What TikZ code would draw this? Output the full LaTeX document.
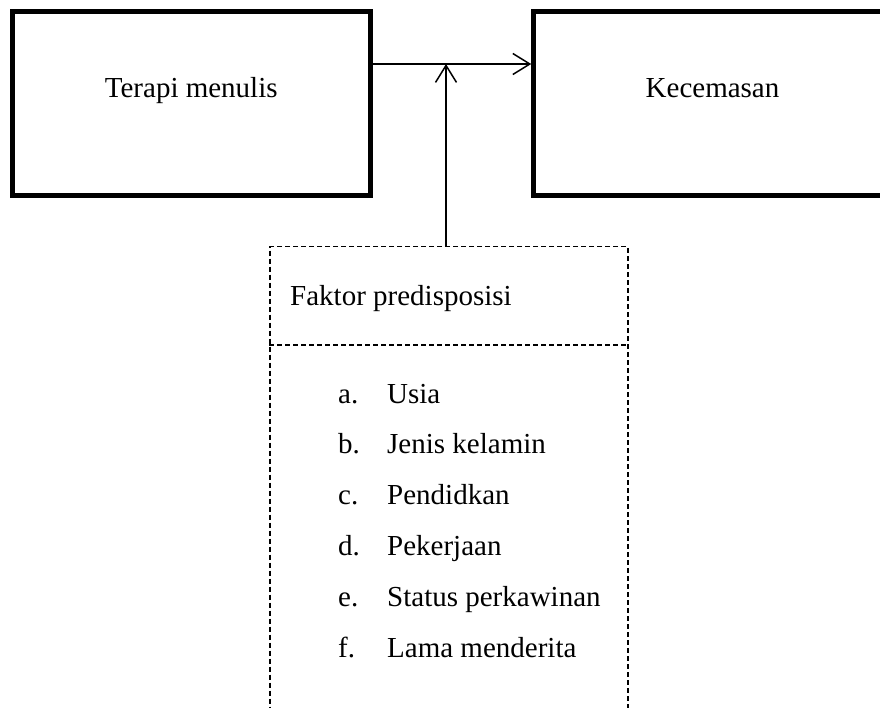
\documentclass[tikz,border=0pt]{standalone}
\usepackage{fontspec}
\setmainfont{Liberation Serif}
\usetikzlibrary{arrows.meta, calc}
\tikzset{
    kotak/.style={draw, line width=5pt, inner sep=0pt, minimum width=357.5pt,
        minimum height=183.5pt},
    kotakputus/.style={draw, dashed, dash pattern=on 5pt off 3pt,
        line width=1.2pt, inner sep=0pt, minimum width=358pt,
        minimum height=520pt},
    panah/.style={line width=1.5pt, -{Straight Barb[length=17pt, width=21pt,
        line width=1.5pt]}},
    teks/.style={font=\fontsize{29}{35}\selectfont, inner sep=0pt},
}
\begin{document}
\begin{tikzpicture}[x=1pt, y=-1pt]
        \useasboundingbox (0, 0) rectangle (880, 707);
        \clip (0, 0) rectangle (880, 707);
        \coordinate (tengah) at (446, 64);
        \node[kotak] (terapi) at (191.25, 103.25) {};
        \node[kotak] (kecemasan) at (712.5, 103.25) {};
        \node[teks, anchor=base] (terapi-teks) at ([yshift=5.5pt]terapi.center)
            {Terapi menulis};
        \node[teks, anchor=base] (kecemasan-teks)
            at ([yshift=5.5pt]kecemasan.center) {Kecemasan};
        \node[kotakputus, anchor=north] (faktor) at (449, 246) {};
        \draw[dashed, dash pattern=on 5pt off 3pt, line width=1.2pt]
            (faktor.west |- 0, 345) -- (faktor.east |- 0, 345);
        \draw[panah] (terapi.east |- tengah) -- (kecemasan.west |- tengah);
        \draw[panah] (tengah |- faktor.north) -- (tengah);
        \node[teks, anchor=base west] (faktor-judul) at (290, 305)
            {Faktor predisposisi};
        \foreach \huruf/\isi [count=\i from 0] in {a./Usia, b./Jenis kelamin,
            c./Pendidkan, d./Pekerjaan, e./Status perkawinan,
            f./Lama menderita} {
            \node[teks, anchor=base west] (huruf-\i) at (338, 403 + 50.8*\i)
                {\huruf};
            \node[teks, anchor=base west] (isi-\i) at (387, 403 + 50.8*\i)
                {\isi};
        }
    \end{tikzpicture}
\end{document}
